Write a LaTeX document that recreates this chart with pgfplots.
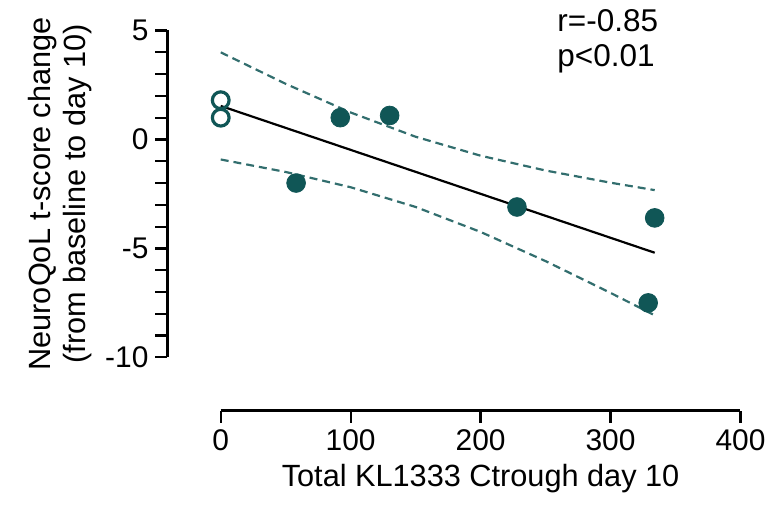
\documentclass[border=0pt]{standalone}
\usepackage{fontspec}
\setmainfont{Liberation Sans}
\usepackage{pgfplots}
\pgfplotsset{compat=1.18}
\definecolor{dotTeal}{RGB}{16,86,86}
\definecolor{bandTeal}{RGB}{50,110,110}
\begin{document}
\begin{tikzpicture}[font=\fontsize{15bp}{18bp}\selectfont]
\begin{axis}[
  scale only axis, width=260.75bp, height=164bp,
  xmin=0, xmax=400, ymin=-10, ymax=5,
  axis x line*=bottom, axis y line*=left,
  axis x line shift=26.7bp, axis y line shift=26.75bp,
  axis line style={line width=1.1bp, black},
  xtick={0,100,200,300,400},
  ytick={-10,-5,0,5}, minor y tick num=4,
  tick align=outside,
  major tick length=6bp, minor tick length=6bp,
  tick style={line width=1.1bp, black},
  /pgf/number format/assume math mode=true,
  xlabel={Total KL1333 Ctrough day 10},
  ylabel={NeuroQoL t-score change\\(from baseline to day 10)},
  label style={font=\fontsize{15.4bp}{17.5bp}\selectfont},
  ylabel style={align=center},
  clip=false]
% 95% confidence band
\addplot[bandTeal, line width=1.1bp, dash pattern=on 4bp off 2.5bp] coordinates {
  (0,3.997) (50,2.552) (100,1.237) (150,0.124) (200,-0.746) (250,-1.425) (300,-1.984) (334,-2.325)};
\addplot[bandTeal, line width=1.1bp, dash pattern=on 4bp off 2.5bp] coordinates {
  (0,-0.919) (50,-1.492) (100,-2.193) (150,-3.098) (200,-4.244) (250,-5.583) (300,-7.040) (334,-8.071)};
% regression line
\addplot[black, line width=1.1bp] coordinates {(0,1.539) (334,-5.198)};
% data
\addplot[only marks, mark=*, mark size=4.7bp, dotTeal] coordinates {
  (58,-2.0) (92,1.0) (130,1.1) (228,-3.1) (334,-3.6) (329,-7.5)};
\addplot[only marks, mark=o, mark size=4.2bp, dotTeal,
  mark options={line width=1.6bp, fill=white}] coordinates {(0,1.8) (0,1.0)};
\node[anchor=west, inner sep=0pt, font=\fontsize{15.8bp}{18bp}\selectfont] at (axis cs:258.8,5.45) {r=-0.85};
\node[anchor=west, inner sep=0pt, font=\fontsize{15.8bp}{18bp}\selectfont] at (axis cs:258.8,3.72) {p<0.01};
\coordinate (O) at (axis cs:0,-10);
\end{axis}
\path[use as bounding box] (O) ++(-110.75bp,-75.7bp) rectangle ++(386bp,255bp);
\end{tikzpicture}
\end{document}
